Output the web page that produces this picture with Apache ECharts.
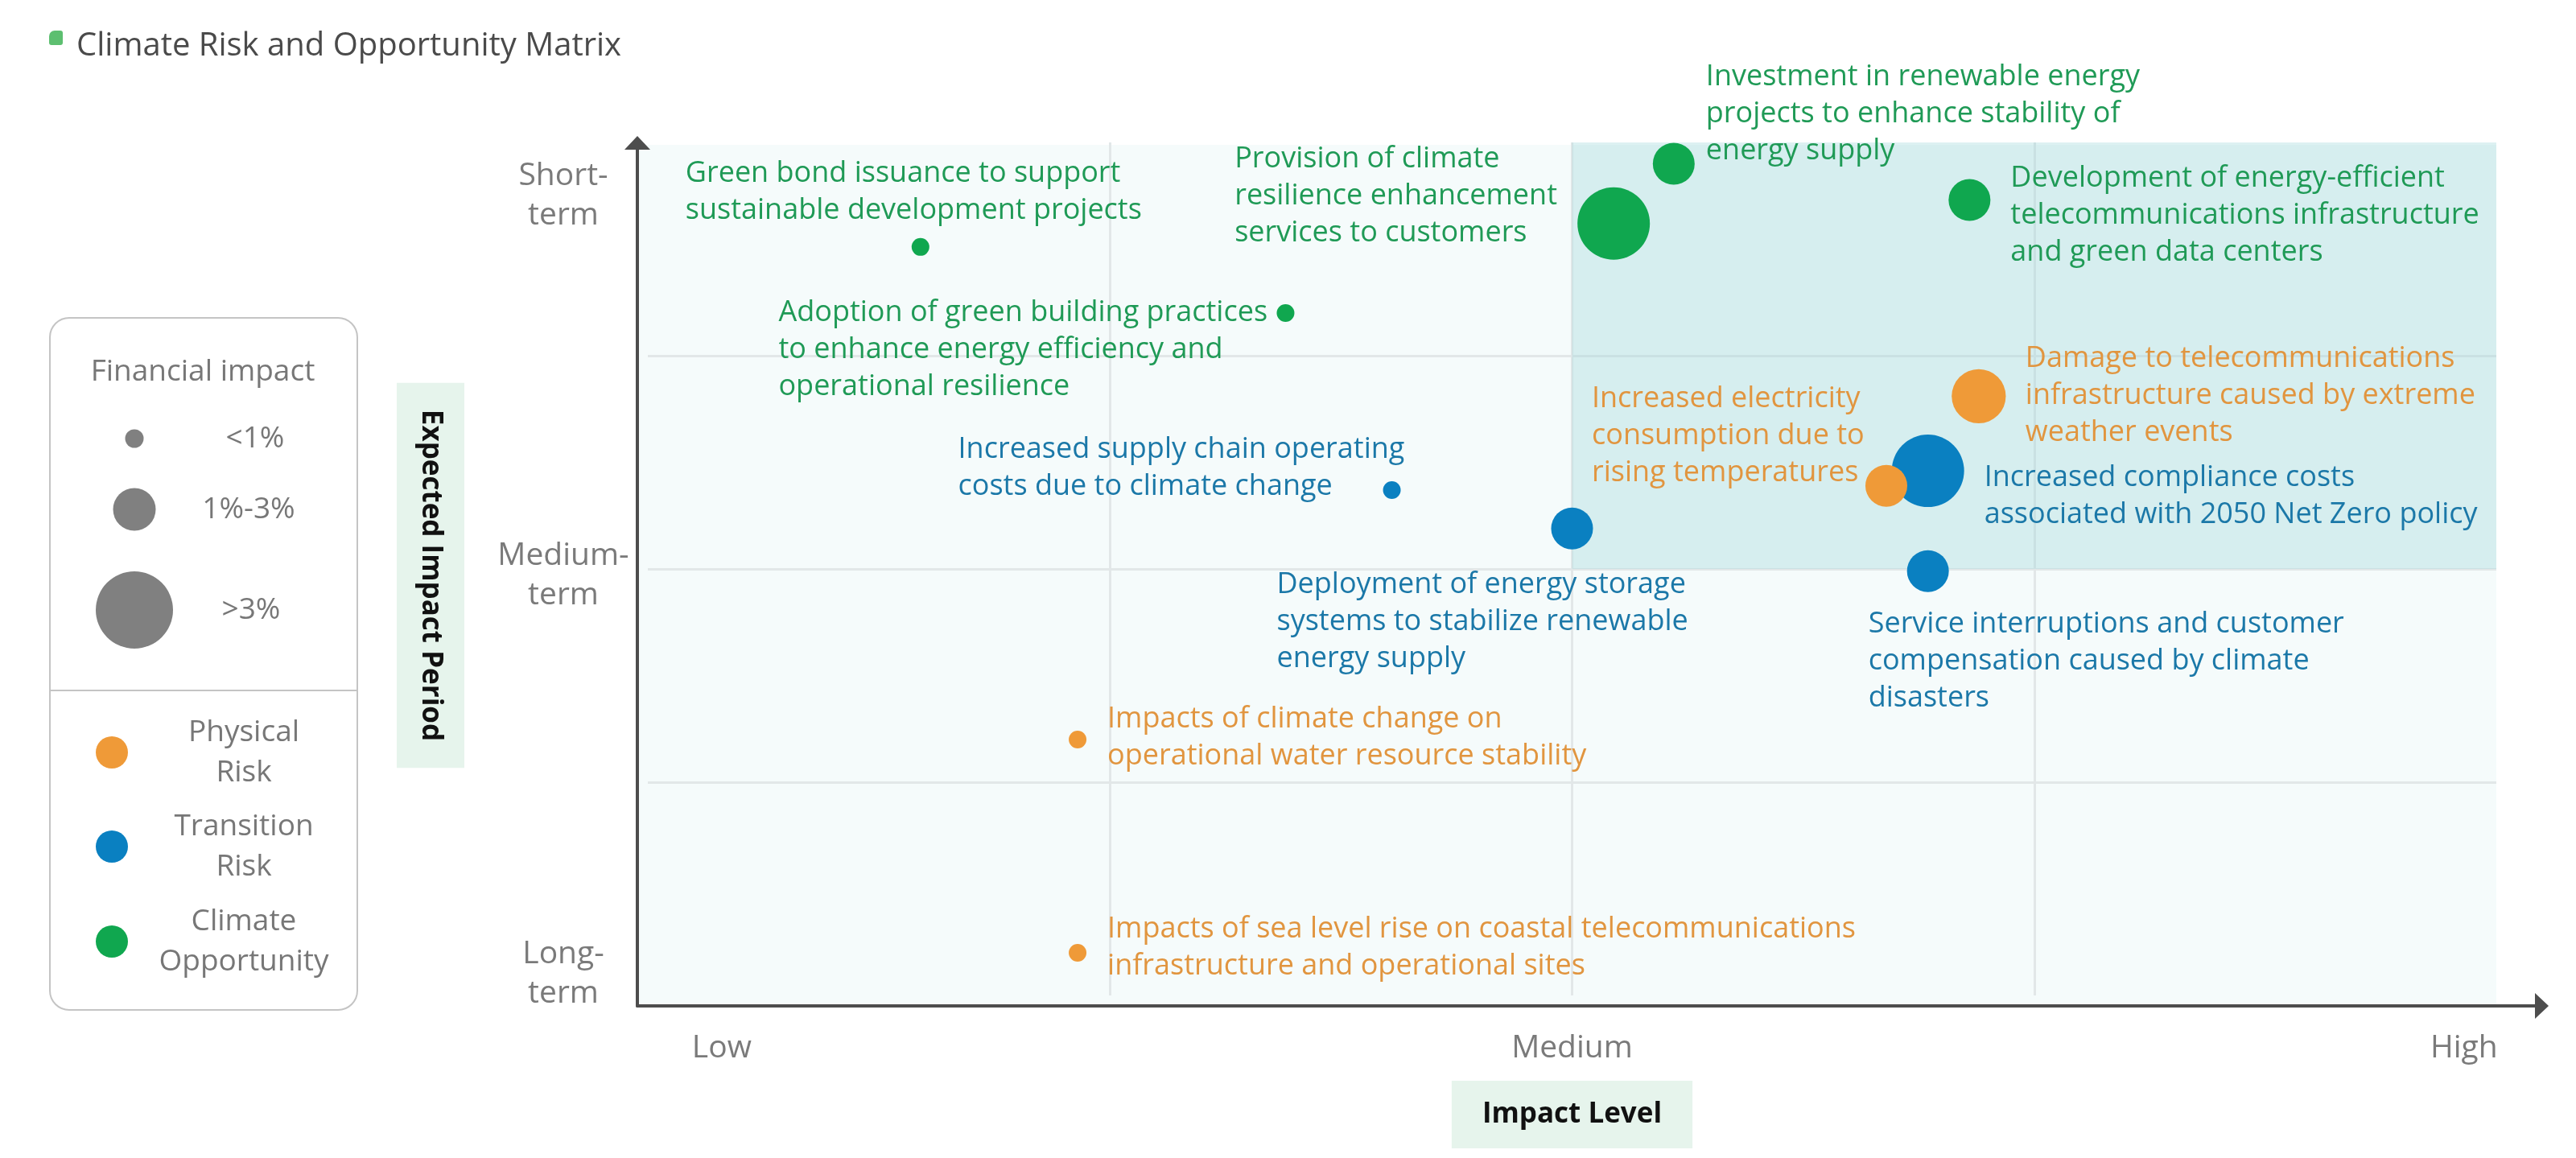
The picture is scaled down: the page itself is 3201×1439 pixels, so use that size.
<!DOCTYPE html>
<html>
<head>
<meta charset="utf-8">
<title>Climate Risk and Opportunity Matrix</title>
<script src="https://cdn.jsdelivr.net/npm/echarts@6/dist/echarts.min.js"></script>
<style>
  html, body { margin: 0; padding: 0; background: #fff; }
  #chart { width: 3201px; height: 1439px; }
</style>
</head>
<body>
<div id="chart"></div>
<script>
// each item: [label, impact level (x), impact period (y), financial impact %]
const physicalRisk = [
  ['Damage to telecommunications\ninfrastructure caused by extreme\nweather events', 2.88, 2.81, 2.8],
  ['Increased electricity\nconsumption due to\nrising temperatures', 2.68, 2.39, 2],
  ['Impacts of climate change on\noperational water resource stability', 0.93, 1.2, 0.5],
  ['Impacts of sea level rise on coastal telecommunications\ninfrastructure and operational sites', 0.93, 0.2, 0.5]
];
const transitionRisk = [
  ['Increased compliance costs\nassociated with 2050 Net Zero policy', 2.77, 2.46, 4],
  ['Increased supply chain operating\ncosts due to climate change', 1.61, 2.37, 0.5],
  ['Deployment of energy storage\nsystems to stabilize renewable\nenergy supply', 2.0, 2.19, 2],
  ['Service interruptions and customer\ncompensation caused by climate\ndisasters', 2.77, 1.99, 2]
];
const climateOpportunity = [
  ['Green bond issuance to support\nsustainable development projects', 0.59, 3.51, 0.5],
  ['Adoption of green building practices\nto enhance energy efficiency and\noperational resilience', 1.38, 3.2, 0.5],
  ['Provision of climate\nresilience enhancement\nservices to customers', 2.09, 3.62, 4],
  ['Investment in renewable energy\nprojects to enhance stability of\nenergy supply', 2.22, 3.9, 2],
  ['Development of energy-efficient\ntelecommunications infrastructure\nand green data centers', 2.86, 3.73, 2]
];

const xTickLabels = ['Low', 'Medium', 'High'];
const xTickValues = [0.16, 2, 3.93];
const yTickLabels = ['Long-\nterm', 'Medium-\nterm', 'Short-\nterm'];
const yTickValues = [0.1, 1.97, 3.75];
const sizeClasses = ['<1%', '1%-3%', '>3%'];
const categories = ['Physical\nRisk', 'Transition\nRisk', 'Climate\nOpportunity'];

// label placement (px from the bubble centre), same order as the items
const physicalLabelOffset = [[58, -1], [-366, -62], [37, -2], [37, -6]];
const transitionLabelOffset = [[70, 32], [-539, -27], [-367, 116], [-74, 112]];
const opportunityLabelOffset = [[-292, -68], [-630, 46], [-471, -34], [40, -62], [51, 19]];

const FONT = '"Open Sans", "Noto Sans", sans-serif';
const colors = {
  physical: { dot: '#ef9a38', text: '#e1953f' },
  transition: { dot: '#0a80c1', text: '#1b78a8' },
  opportunity: { dot: '#10a74f', text: '#1f9a56' }
};

// financial impact % -> bubble diameter
const sizeStops = [[0.5, 22], [2, 52], [4, 90]];
function sizeOf(f) {
  if (f <= sizeStops[0][0]) return sizeStops[0][1];
  for (let i = 1; i < sizeStops.length; i++) {
    const a = sizeStops[i - 1], b = sizeStops[i];
    if (f <= b[0]) return a[1] + (f - a[0]) / (b[0] - a[0]) * (b[1] - a[1]);
  }
  return sizeStops[sizeStops.length - 1][1];
}

function makeSeries(name, c, items, offsets, extra) {
  return Object.assign({
    type: 'scatter',
    name: name,
    xAxisIndex: 1,
    yAxisIndex: 1,
    symbolSize: v => sizeOf(v[2]),
    itemStyle: { color: c.dot, opacity: 1 },
    label: {
      show: true,
      position: 'inside',
      formatter: '{b}',
      color: c.text,
      fontFamily: FONT,
      fontSize: 36,
      lineHeight: 46,
      align: 'left',
      verticalAlign: 'middle',
      textBorderWidth: 0
    },
    emphasis: { disabled: true },
    data: items.map((d, i) => ({
      name: d[0],
      value: [d[1], d[2], d[3]],
      label: { offset: offsets[i] }
    }))
  }, extra || {});
}

const chart = echarts.init(document.getElementById('chart'));

// legend drawn as graphic elements
const legendGraphic = [
  { type: 'rect', left: 61, top: 38, shape: { width: 17, height: 18, r: [7, 3, 3, 3] }, style: { fill: '#5dbf70' } },
  { type: 'rect', left: 61, top: 394, shape: { width: 382, height: 860, r: 24 }, style: { fill: '#fff', stroke: '#c4c4c4', lineWidth: 2 } },
  { type: 'line', shape: { x1: 61, y1: 858, x2: 443, y2: 858 }, style: { stroke: '#c4c4c4', lineWidth: 2 } },
  { type: 'text', x: 252, y: 462, style: { text: 'Financial impact', fontFamily: FONT, fontSize: 37, fill: '#777', align: 'center', verticalAlign: 'middle' } }
];
const legendSizeR = [11.5, 26.5, 48];
const legendSizeY = [545, 633, 758];
const legendSizeTextX = [317, 309, 312];
sizeClasses.forEach((t, i) => {
  legendGraphic.push({ type: 'circle', shape: { cx: 167, cy: legendSizeY[i], r: legendSizeR[i] }, style: { fill: '#808080' } });
  legendGraphic.push({ type: 'text', x: legendSizeTextX[i], y: legendSizeY[i], style: { text: t, fontFamily: FONT, fontSize: 37, fill: '#777', align: 'center', verticalAlign: 'middle' } });
});
const legendCatY = [935, 1052, 1170];
const legendCatColor = [colors.physical.dot, colors.transition.dot, colors.opportunity.dot];
categories.forEach((t, i) => {
  legendGraphic.push({ type: 'circle', shape: { cx: 139, cy: legendCatY[i], r: 20 }, style: { fill: legendCatColor[i] } });
  legendGraphic.push({ type: 'text', x: 303, y: legendCatY[i], style: { text: t, fontFamily: FONT, fontSize: 37, lineHeight: 50, fill: '#777', align: 'center', verticalAlign: 'middle' } });
});

const nameBox = {
  fontFamily: FONT,
  fontWeight: 'bold',
  fontSize: 35,
  lineHeight: 38,
  color: '#111',
  backgroundColor: '#e6f4ec',
  align: 'center',
  verticalAlign: 'middle'
};

chart.setOption({
  animation: false,
  backgroundColor: '#fff',
  title: {
    text: 'Climate Risk and Opportunity Matrix',
    left: 95,
    top: 34,
    padding: 0,
    textStyle: { fontFamily: FONT, fontSize: 40, fontWeight: 'normal', color: '#4a4a4a', lineHeight: 48 }
  },
  graphic: legendGraphic,
  grid: [
    // plot background
    { left: 792, right: 99, top: 180, bottom: 189, show: true, backgroundColor: '#f5fbfb', borderWidth: 0, z: -1 },
    // data area
    { left: 805, right: 99, top: 177, bottom: 202 },
    // axis lines with arrows
    { left: 792, right: 42.5, top: 177.5, bottom: 189 }
  ],
  xAxis: [
    { gridIndex: 0, type: 'value', min: 0, max: 1, show: false },
    {
      gridIndex: 1, type: 'value', min: 0, max: 4, interval: 1,
      axisLine: { show: false }, axisTick: { show: false },
      splitLine: { show: true, showMinLine: false, showMaxLine: false, lineStyle: { color: '#e2e7e8', width: 3 } },
      axisLabel: {
        customValues: xTickValues,
        formatter: v => xTickLabels[xTickValues.indexOf(v)],
        margin: 66, verticalAlign: 'middle',
        color: '#7a7a7a', fontFamily: FONT, fontSize: 39
      },
      name: 'Impact Level', nameLocation: 'middle', nameGap: 148,
      nameTextStyle: Object.assign({ padding: [23, 38] }, nameBox)
    },
    {
      gridIndex: 2, type: 'value', min: 0, max: 1,
      axisLine: { show: true, onZero: false, symbol: ['none', 'triangle'], symbolSize: [32, 17], lineStyle: { color: '#4d4d4d', width: 4 } },
      axisTick: { show: false }, axisLabel: { show: false }, splitLine: { show: false }
    }
  ],
  yAxis: [
    {
      // carries the axis title, centred on the full plot height
      gridIndex: 0, type: 'value', min: 0, max: 1,
      axisLine: { show: false }, axisTick: { show: false }, axisLabel: { show: false }, splitLine: { show: false },
      name: 'Expected Impact Period', nameLocation: 'middle', nameGap: 257, nameRotate: -90,
      nameTextStyle: Object.assign({ padding: [23, 33] }, nameBox)
    },
    {
      gridIndex: 1, type: 'value', min: 0, max: 4, interval: 1,
      axisLine: { show: false }, axisTick: { show: false },
      splitLine: { show: true, showMinLine: false, showMaxLine: false, lineStyle: { color: '#e2e7e8', width: 3 } },
      axisLabel: {
        customValues: yTickValues,
        formatter: v => yTickLabels[yTickValues.indexOf(v)],
        margin: 105, align: 'center',
        color: '#7a7a7a', fontFamily: FONT, fontSize: 39, lineHeight: 49
      }
    },
    {
      gridIndex: 2, type: 'value', min: 0, max: 1,
      axisLine: { show: true, onZero: false, symbol: ['none', 'triangle'], symbolSize: [32, 17], lineStyle: { color: '#4d4d4d', width: 4 } },
      axisTick: { show: false }, axisLabel: { show: false }, splitLine: { show: false }
    }
  ],
  series: [
    makeSeries('Transition Risk', colors.transition, transitionRisk, transitionLabelOffset, {
      markArea: {
        silent: true,
        itemStyle: { color: 'rgba(162,217,220,0.36)' },
        label: { show: false },
        data: [[{ xAxis: 2, yAxis: 2 }, { xAxis: 4, yAxis: 4 }]]
      }
    }),
    makeSeries('Physical Risk', colors.physical, physicalRisk, physicalLabelOffset),
    makeSeries('Climate Opportunity', colors.opportunity, climateOpportunity, opportunityLabelOffset)
  ]
});
</script>
</body>
</html>
